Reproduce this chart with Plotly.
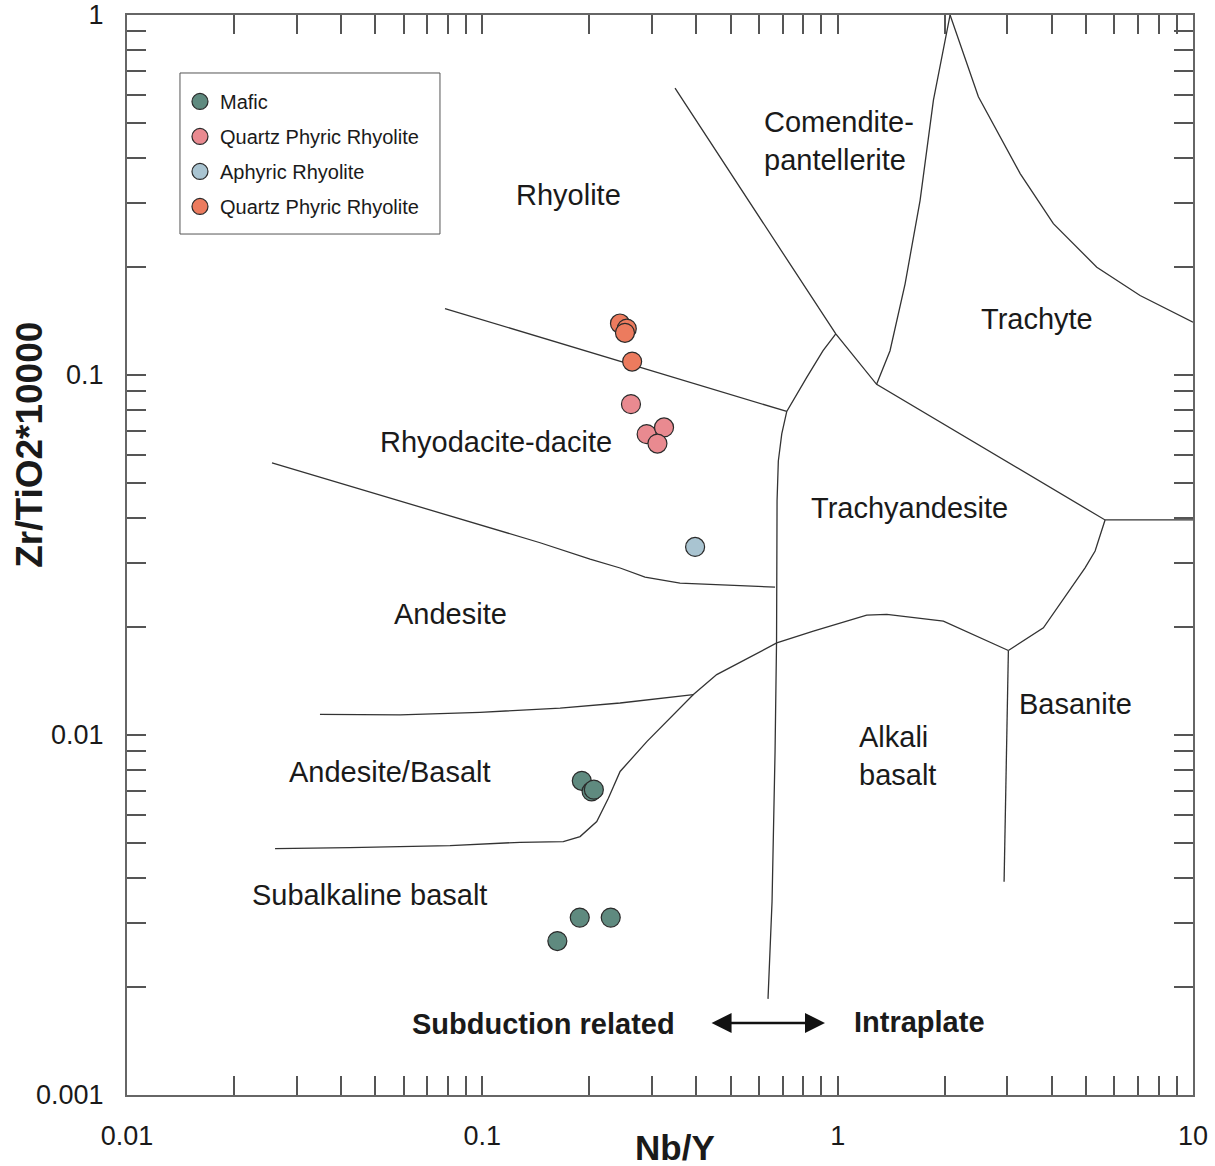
import math
import plotly.graph_objects as go

# ---------------- data ----------------
mafic_x = [0.1905, 0.203, 0.206, 0.188, 0.2298, 0.1626]
mafic_y = [0.00746, 0.00697, 0.00705, 0.00311, 0.00311, 0.002677]

qpr_pink_x = [0.262, 0.290, 0.3246, 0.311]
qpr_pink_y = [0.0830, 0.0685, 0.0715, 0.0645]

aphyric_x = [0.397]
aphyric_y = [0.0333]

qpr_orange_x = [0.244, 0.255, 0.252, 0.264]
qpr_orange_y = [0.139, 0.1345, 0.131, 0.109]

# field boundaries (Nb/Y, Zr/TiO2*10000)
boundaries = {
    "rhyolite_rhyodacite": ([0.0785, 0.719], [0.153, 0.0792]),
    "rhyodacite_andesite": ([0.02559, 0.1454, 0.2010, 0.2442, 0.2870, 0.3600, 0.6665],
                            [0.0570, 0.0342, 0.0308, 0.0291, 0.02746, 0.02642, 0.02575]),
    "comendite_trachyandesite": ([0.3486, 0.9879, 1.287, 5.656, 10.0],
                                 [0.626, 0.1300, 0.0942, 0.03957, 0.0396]),
    "vertical_divide": ([0.9879, 0.9096, 0.8184, 0.719, 0.6961, 0.6808, 0.6752, 0.6738, 0.6730,
                         0.6665, 0.6536, 0.6368],
                        [0.1300, 0.1168, 0.0985, 0.0792, 0.0686, 0.0577, 0.0447, 0.02511, 0.01822,
                         0.009, 0.003442, 0.001849]),
    "trachyte_left": ([1.287, 1.404, 1.548, 1.706, 1.860, 2.072],
                      [0.0942, 0.1168, 0.1792, 0.3056, 0.5799, 1.0]),
    "trachyte_right": ([2.072, 2.489, 3.263, 4.046, 5.362, 7.097, 10.0],
                       [1.0, 0.5925, 0.3626, 0.2632, 0.1993, 0.1663, 0.1401]),
    "trachyandesite_basanite": ([5.656, 5.303, 4.969, 3.793, 3.023],
                                [0.03957, 0.03243, 0.02914, 0.01984, 0.01717]),
    "basanite_left": ([3.023, 2.979, 2.940], [0.01717, 0.00844, 0.003914]),
    "alkali_basalt_top": ([3.023, 1.984, 1.375, 1.207, 0.8543, 0.6738, 0.4567, 0.3926, 0.2908,
                           0.2442, 0.2263, 0.2099, 0.1884, 0.1690, 0.1277, 0.0811, 0.04241, 0.02610],
                          [0.01717, 0.02071, 0.02162, 0.02152, 0.01942, 0.01802, 0.01472, 0.01295,
                           0.0096, 0.00792, 0.00667, 0.005748, 0.005222, 0.005058, 0.005035,
                           0.004929, 0.004867, 0.004836]),
    "andesite_basalt_top": ([0.3926, 0.2442, 0.1655, 0.0985, 0.0587, 0.03492],
                            [0.01295, 0.01227, 0.01188, 0.01156, 0.01137, 0.01141]),
}

field_labels = ["Rhyolite", "Trachyte", "Rhyodacite-dacite", "Trachyandesite", "Andesite",
                "Basanite", "Andesite/Basalt", "Subalkaline basalt"]
field_x = [0.1743, 3.640, 0.1093, 1.589, 0.0816, 4.658, 0.05497, 0.04799]
field_y = [0.3155, 0.1434, 0.0652, 0.04272, 0.02166, 0.01217, 0.00787, 0.003601]

left_labels = ["Comendite-<br>pantellerite", "Alkali<br>basalt"]
left_x = [0.6127, 1.134]
left_y = [0.446, 0.00877]

bold_labels = ["Subduction related", "Intraplate"]
bold_x = [0.1482, 1.695]
bold_y = [0.001575, 0.001595]

arrow_x = [0.4375, 0.921]
arrow_y = 0.001585

x_decades = [0.01, 0.1, 1, 10]
y_decades = [0.001, 0.01, 0.1, 1]

FONT = "Liberation Sans, Arial, sans-serif"
LINE_COL = "#333333"
TXT = "#1a1a1a"


def tick_set(decs):
    vals, texts = [], []
    for i, d in enumerate(decs):
        for m in range(1, 10):
            if i == len(decs) - 1 and m > 1:
                break
            v = d * m
            vals.append(v)
            texts.append(("%g" % v) if m == 1 else "")
    return vals, texts


fig = go.Figure()

for name, (bx, by) in boundaries.items():
    fig.add_trace(go.Scatter(x=bx, y=by, mode="lines", line=dict(color=LINE_COL, width=1.3),
                             showlegend=False, hoverinfo="skip"))

series = [
    ("Mafic", mafic_x, mafic_y, "#5f8a7f"),
    ("Quartz Phyric Rhyolite", qpr_pink_x, qpr_pink_y, "#e98a90"),
    ("Aphyric Rhyolite", aphyric_x, aphyric_y, "#a9c4d1"),
    ("Quartz Phyric Rhyolite", qpr_orange_x, qpr_orange_y, "#ec7b5e"),
]
for i, (nm, sx, sy, col) in enumerate(series):
    fig.add_trace(go.Scatter(x=sx, y=sy, mode="markers", name=nm, legendgroup="g%d" % i,
                             marker=dict(size=19, color=col, line=dict(color="#2a2a2a", width=1.2))))

annotations = []
for t, x, y in zip(field_labels, field_x, field_y):
    annotations.append(dict(x=math.log10(x), y=math.log10(y), xref="x", yref="y", text=t,
                            showarrow=False, font=dict(size=29, color=TXT, family=FONT)))
for t, x, y in zip(left_labels, left_x, left_y):
    annotations.append(dict(x=math.log10(x), y=math.log10(y), xref="x", yref="y", text=t,
                            showarrow=False, xanchor="left", align="left",
                            font=dict(size=29, color=TXT, family=FONT)))
for t, x, y in zip(bold_labels, bold_x, bold_y):
    annotations.append(dict(x=math.log10(x), y=math.log10(y), xref="x", yref="y",
                            text="<b>%s</b>" % t, showarrow=False,
                            font=dict(size=29, color=TXT, family=FONT)))
annotations.append(dict(x=math.log10(arrow_x[1]), y=math.log10(arrow_y), xref="x", yref="y",
                        ax=math.log10(arrow_x[0]), ay=math.log10(arrow_y), axref="x", ayref="y",
                        text="", showarrow=True, arrowhead=2, startarrowhead=2,
                        arrowside="end+start", arrowwidth=2.5, arrowsize=1.6, startarrowsize=1.6,
                        arrowcolor="#111111"))
# axis titles
annotations.append(dict(x=0.514, y=-0.049, xref="paper", yref="paper", text="<b>Nb/Y</b>",
                        showarrow=False, yanchor="middle",
                        font=dict(size=35, color=TXT, family=FONT)))
annotations.append(dict(x=-0.091, y=0.602, xref="paper", yref="paper", text="<b>Zr/TiO2*10000</b>",
                        showarrow=False, textangle=-90, xanchor="center", yanchor="middle",
                        font=dict(size=37, color=TXT, family=FONT)))

xv, xt = tick_set(x_decades)
yv, yt = tick_set(y_decades)

axis_common = dict(type="log", showgrid=False, zeroline=False, showline=True, mirror="allticks",
                   linecolor="#666666", linewidth=2, ticks="inside", ticklen=19,
                   tickcolor="#555555", tickwidth=1.5, automargin=False,
                   tickfont=dict(size=27, color=TXT, family=FONT))

# legend frame (paper coordinates)
legend_box = dict(type="rect", xref="paper", yref="paper", x0=0.0497, x1=0.2936,
                  y0=0.7972, y1=0.9463, line=dict(color="#555555", width=1),
                  fillcolor="white", layer="below")

fig.update_layout(
    width=1215, height=1166,
    margin=dict(l=127, r=22, t=15, b=71, autoexpand=False),
    paper_bgcolor="white", plot_bgcolor="white",
    font=dict(family=FONT),
    xaxis=dict(range=[-2, 1], tickvals=xv, ticktext=xt, ticklabelstandoff=16, **axis_common),
    yaxis=dict(range=[-3, 0], tickvals=yv, ticktext=yt, ticklabelstandoff=16, **axis_common),
    legend=dict(x=0.0497, y=0.938, xanchor="left", yanchor="top",
                borderwidth=0, bgcolor="rgba(0,0,0,0)",
                font=dict(size=20, color=TXT, family=FONT), tracegroupgap=6),
    shapes=[legend_box],
    annotations=annotations,
    showlegend=True,
)

fig.write_html("out.html")
